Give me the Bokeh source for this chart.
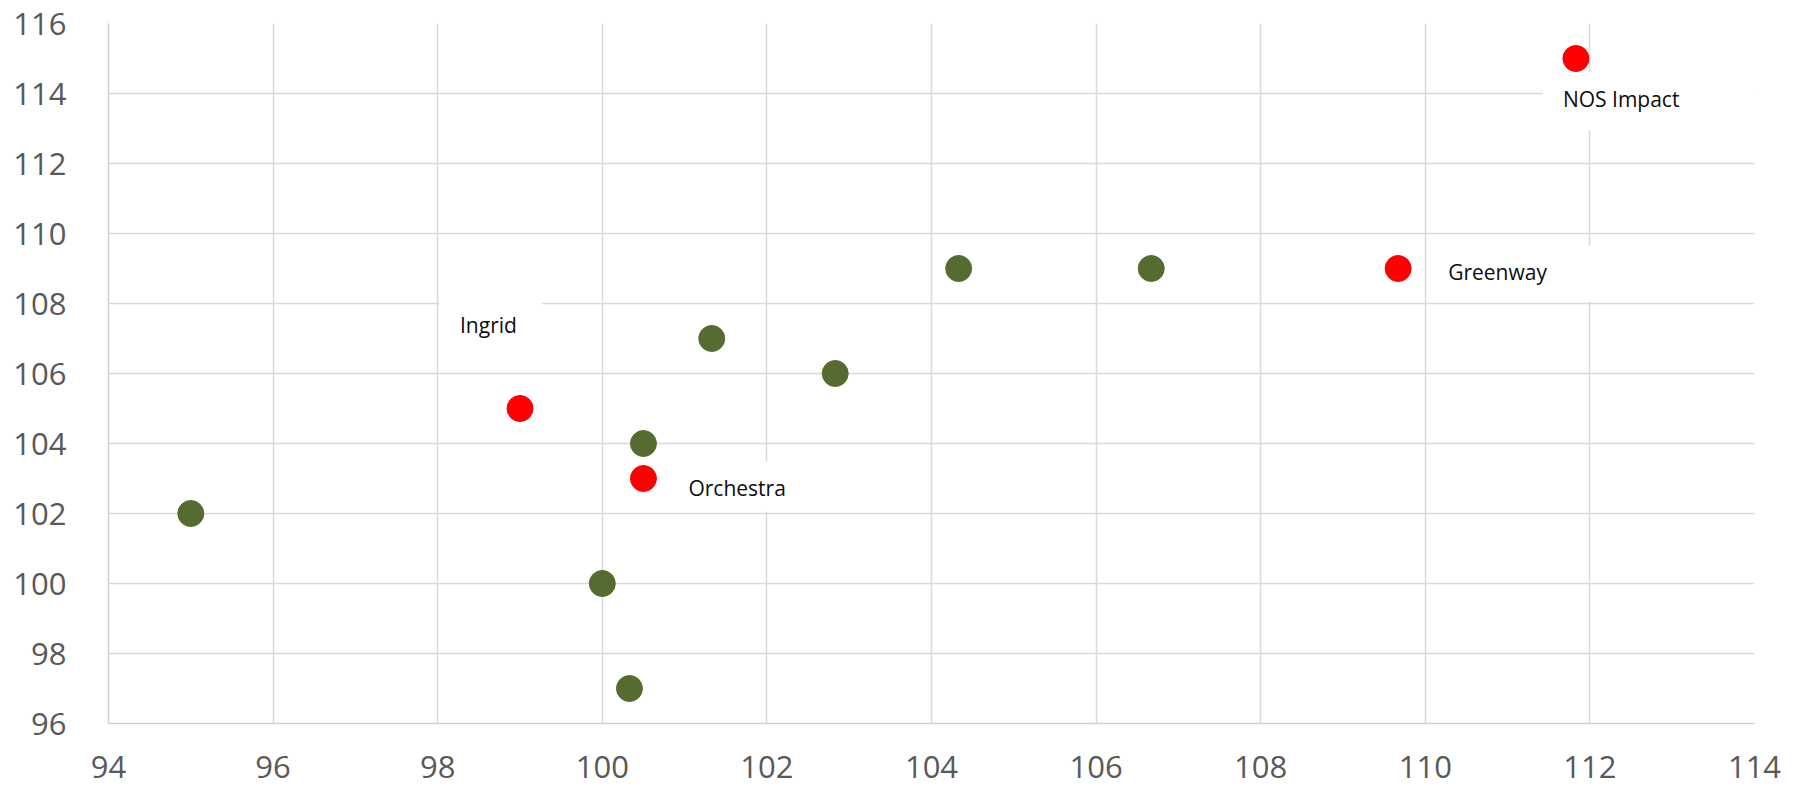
from bokeh.plotting import figure
from bokeh.models import FixedTicker, Label
from bokeh.embed import file_html
from bokeh.resources import INLINE

# Peer group positions (x, y)
peer_x = [95, 100, 100.33, 100.5, 101.33, 102.83, 104.33, 106.67]
peer_y = [102, 100, 97, 104, 107, 106, 109, 109]

# Highlighted funds with their names
named = ["Ingrid", "Orchestra", "Greenway", "NOS  Impact"]
named_x = [99, 100.5, 109.67, 111.83]
named_y = [105, 103, 109, 115]

x_ticks = [94, 96, 98, 100, 102, 104, 106, 108, 110, 112, 114]
y_ticks = [96, 98, 100, 102, 104, 106, 108, 110, 112, 114, 116]

FONT = "Open Sans"
GRID = "#d9d9d9"

p = figure(width=1802, height=790, output_backend="svg", toolbar_location=None,
           x_range=(94, 114), y_range=(96, 116))
p.min_border_left = 108
p.min_border_right = 48
p.min_border_top = 23
p.min_border_bottom = 67
p.outline_line_color = None
p.background_fill_color = "white"
p.border_fill_color = "white"

for ax, ticks in ((p.xaxis[0], x_ticks), (p.yaxis[0], y_ticks)):
    ax.ticker = FixedTicker(ticks=ticks)
    ax.major_tick_line_color = None
    ax.minor_tick_line_color = None
    ax.axis_line_color = "#cfcfcf"
    ax.axis_line_width = 1.5
    ax.major_label_text_font = FONT
    ax.major_label_text_font_size = "31px"
    ax.major_label_text_color = "#595959"

p.xaxis.major_label_standoff = 26
p.yaxis.major_label_standoff = 36

p.xgrid.ticker = FixedTicker(ticks=x_ticks)
p.ygrid.ticker = FixedTicker(ticks=y_ticks)
for g in (p.xgrid[0], p.ygrid[0]):
    g.grid_line_color = GRID
    g.grid_line_width = 1.5

p.scatter(peer_x, peer_y, size=26, fill_color="#556B2F", line_color="#556B2F")
p.scatter(named_x, named_y, size=26, fill_color="#FF0000", line_color="#FF0000")

# Callout placement for each name: box offset from its dot and box padding
offsets = [(-81, 82), (25, -8), (29, -5), (-33, -43)]
paddings = [
    dict(left=21, right=25, top=12, bottom=16),
    dict(left=20, right=20, top=12, bottom=10),
    dict(left=21, right=109, top=12, bottom=16),
    dict(left=20, right=79, top=12, bottom=18),
]

for name, x, y, (dx, dy), pad in zip(named, named_x, named_y, offsets, paddings):
    p.add_layout(Label(
        x=x, y=y, x_offset=dx, y_offset=dy, text=name,
        text_font=FONT, text_font_size="21px", text_color="#0d0d0d",
        text_align="left", text_baseline="middle",
        background_fill_color="white", padding=pad,
    ))

open("out.html", "w").write(file_html(p, INLINE))
